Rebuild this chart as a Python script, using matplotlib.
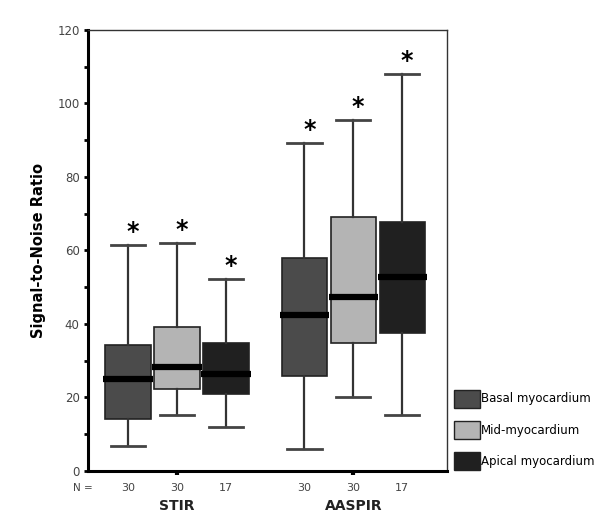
import numpy as np
import matplotlib
matplotlib.use("Agg")
import matplotlib.pyplot as plt
from matplotlib.patches import Patch

# Data
groups = ["STIR", "AASPIR"]
regions = ["Basal myocardium", "Mid-myocardium", "Apical myocardium"]
n_counts = [30, 30, 17, 30, 30, 17]
whisk_lo = [6.9, 15.2, 11.9, 5.9, 20.2, 15.2]
q1 = [14.1, 22.2, 20.9, 25.9, 34.7, 37.6]
median = [25.0, 28.4, 26.4, 42.4, 47.4, 52.7]
q3 = [34.3, 39.1, 34.9, 57.9, 69.2, 67.8]
whisk_hi = [61.5, 62.0, 52.2, 89.2, 95.5, 108.0]

colors = ["#4b4b4b", "#b4b4b4", "#202020"]
group_centers = [1.0, 4.6]
offsets = [-1.0, 0.0, 1.0]
positions = [c + o for c in group_centers for o in offsets]

fig = plt.figure(figsize=(6, 5.32), dpi=100)
ax = fig.add_axes([0.1467, 0.1147, 0.598, 0.829])

stats = []
for i in range(len(positions)):
    stats.append(dict(whislo=whisk_lo[i], q1=q1[i], med=median[i],
                      q3=q3[i], whishi=whisk_hi[i], fliers=[]))

bp = ax.bxp(stats, positions=positions, widths=0.93, patch_artist=True,
            showfliers=False, capwidths=0.7,
            boxprops=dict(edgecolor="#222222", linewidth=1.2),
            whiskerprops=dict(color="#333333", linewidth=1.6),
            capprops=dict(color="#444444", linewidth=2.0),
            medianprops=dict(color="black", linewidth=4.5))
for i, box in enumerate(bp["boxes"]):
    box.set_facecolor(colors[i % 3])
for m in bp["medians"]:
    x = m.get_xdata()
    m.set_xdata([x[0] - 0.04, x[1] + 0.04])

# significance stars
for p, hi in zip(positions, whisk_hi):
    ax.text(p + 0.1, hi + 1.6, "*", ha="center", va="baseline",
            fontsize=17, fontweight="bold")

ax.set_xlim(-0.82, 6.51)
ax.set_ylim(0, 120)
ax.set_yticks(np.arange(0, 121, 20))
ax.set_yticks(np.arange(10, 120, 20), minor=True)
ax.tick_params(axis="y", which="both", direction="out", length=3, width=2,
               labelsize=8.5, labelcolor="#444444", pad=3)
ax.set_xticks(group_centers)
ax.set_xticklabels([])
ax.tick_params(axis="x", direction="out", length=3, width=3)

for s in ["left", "bottom"]:
    ax.spines[s].set_linewidth(2.2)
for s in ["top", "right"]:
    ax.spines[s].set_linewidth(1.0)
    ax.spines[s].set_color("#333333")

ax.set_ylabel("Signal-to-Noise Ratio", fontsize=10.5, fontweight="bold",
              labelpad=8)

# N counts under boxes
trans = ax.get_xaxis_transform()
ax.text(-0.92, -0.038, "N =", transform=trans, ha="center", va="center",
        fontsize=7.5, color="#444444")
for p, n in zip(positions, n_counts):
    ax.text(p, -0.038, str(n), transform=trans, ha="center", va="center",
            fontsize=8, color="#444444")
for c, g in zip(group_centers, groups):
    ax.text(c, -0.08, g, transform=trans, ha="center", va="center",
            fontsize=10, fontweight="bold", color="#222222")

handles = [Patch(facecolor=colors[i], edgecolor="#222222") for i in range(3)]
fig.legend(handles, regions, loc="center left", bbox_to_anchor=(0.757, 0.192),
           frameon=False, fontsize=8.5, handlelength=2.2, handleheight=2.0,
           handletextpad=0.1, labelspacing=1.1, borderaxespad=0,
           borderpad=0)

fig.savefig("out.png", dpi=100)
